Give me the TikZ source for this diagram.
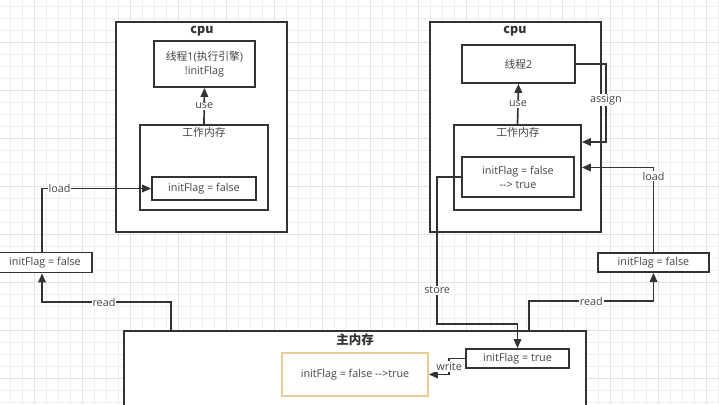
\documentclass[tikz,border=0pt]{standalone}
\usepackage{fontspec}
\setmainfont{Open Sans}
\newfontfamily\cjk{Noto Sans CJK SC}
\usetikzlibrary{arrows.meta}
\definecolor{ln}{RGB}{51, 51, 51}
\definecolor{tx}{RGB}{68, 68, 68}
\definecolor{gridc}{RGB}{238, 238, 238}
\definecolor{gridm}{RGB}{226, 226, 226}
\definecolor{selc}{RGB}{232, 206, 150}

\begin{document}
\begin{tikzpicture}[
  box/.style={rectangle, draw=ln, line width=1.7pt, inner sep=0pt, fill=white, text=tx, font=\fontsize{10.8}{14}\selectfont, align=center},
  arr/.style={draw=ln, line width=1.7pt, -{Triangle[length=9pt, width=7.5pt]}},
  lbl/.style={fill=white, inner sep=1pt, text=tx, font=\fontsize{10.8}{14}\selectfont},
  ttl/.style={inner sep=0pt, text=ln, font=\cjk\fontsize{12.5}{15}\bfseries\selectfont}]
\useasboundingbox (0pt, 0pt) rectangle (719pt, -404pt);
% editor grid
\foreach \x in {10.7, 22.7, ..., 719} \draw [gridc, line width=0.6pt] (\x pt, 0pt) -- (\x pt, -404pt);
\foreach \y in {6.5, 18.5, ..., 404} \draw [gridc, line width=0.6pt] (0pt, -\y pt) -- (719pt, -\y pt);
\foreach \x in {34.7, 82.7, ..., 719} \draw [gridm, line width=0.8pt] (\x pt, 0pt) -- (\x pt, -404pt);
\foreach \y in {42.5, 90.5, ..., 404} \draw [gridm, line width=0.8pt] (0pt, -\y pt) -- (719pt, -\y pt);
% left cpu
\node (cpuL) [box, minimum width=171pt, minimum height=210pt] at (201.5pt, -127pt) {};
\node (cpuLt) [ttl] at (202pt, -31pt) {cpu};
\node (thr1) [box, minimum width=101pt, minimum height=46pt] at (204.5pt, -64pt) {{\cjk 线程}1({\cjk 执行引擎})\\!initFlag};
\node (wmL) [box, minimum width=128pt, minimum height=85pt] at (204pt, -167.5pt) {};
\node (wmLt) [lbl, fill=none] at (204pt, -132pt) {\cjk 工作内存};
\node (flagL) [box, minimum width=104pt, minimum height=23pt] at (204pt, -188.5pt) {initFlag = false};
% right cpu
\node (cpuR) [box, minimum width=171pt, minimum height=210pt] at (515.5pt, -127pt) {};
\node (cpuRt) [ttl] at (515pt, -31pt) {cpu};
\node (thr2) [box, minimum width=113pt, minimum height=38pt] at (518.5pt, -64pt) {{\cjk 线程}2};
\node (wmR) [box, minimum width=127pt, minimum height=85pt] at (517.5pt, -167.5pt) {};
\node (wmRt) [lbl, fill=none] at (518pt, -132pt) {\cjk 工作内存};
\node (flagR) [box, minimum width=112pt, minimum height=40pt] at (518pt, -177pt) {initFlag = false\\-{}-> true};
% copies outside
\node (valL) [box, minimum width=100pt, minimum height=20pt] at (42pt, -262.5pt) {\hspace*{6pt}initFlag = false};
\node (valR) [box, minimum width=111pt, minimum height=19pt] at (653.5pt, -262.5pt) {initFlag = false};
% main memory
\node (main) [box, minimum width=462pt, minimum height=89pt] at (355pt, -375.5pt) {};
\node (mainT) [ttl] at (355pt, -340pt) {主内存};
\node (mainval) [box, draw=selc, minimum width=146pt, minimum height=43pt] at (355pt, -374.5pt) {initFlag = false -{}->true};
\node (trueM) [box, minimum width=103pt, minimum height=19pt] at (517.5pt, -358.5pt) {initFlag = true};
% connectors
\draw [arr] (wmL.north) -- node [lbl] {use} (thr1.south);
\draw [arr] (wmR.north) -- node [lbl] {use} (thr2.south);
\draw [arr] (valL.north) |- node [lbl, pos=0.58] {load} (flagL.west);
\draw [arr] ([xshift=48pt]main.north west) -- ++(0pt, 28pt) -| node [lbl, pos=0.26] {read} (valL.south);
\draw [arr] (thr2.east) -| ([xshift=24pt, yshift=25.5pt]wmR.east) node [lbl, pos=0.73] {assign} -- ([yshift=25.5pt]wmR.east);
\draw [arr] (valR.north) |- node [lbl, pos=0.45] {load} (wmR.east);
\draw [arr] ([xshift=406pt]main.north west) -- ++(0pt, 29pt) -| node [lbl, pos=0.25] {read} (valR.south);
\draw [arr] (flagR.west) -- ++(-24pt, 0pt) |- node [lbl, pos=0.385] {store} ([yshift=24pt]trueM.north) -- (trueM.north);
\draw [arr] (trueM.west) -- ++(-16pt, 0pt) |- node [lbl, pos=0.25] {write} (mainval.east);
\end{tikzpicture}
\end{document}
